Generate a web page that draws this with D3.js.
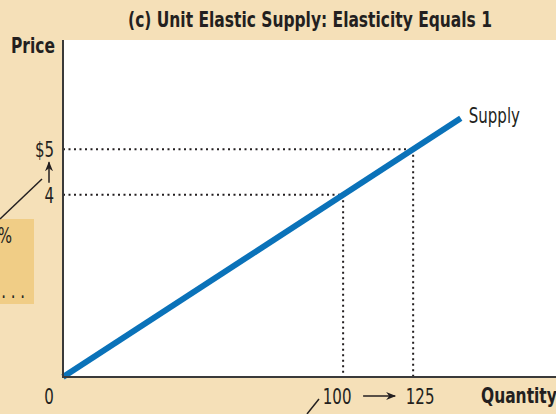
<!DOCTYPE html>
<html>
<head>
<meta charset="utf-8">
<script src="https://cdn.jsdelivr.net/npm/d3@7"></script>
<style>
  body { margin: 0; background: #f5e0b8; }
  svg { display: block; }
  text { font-family: "DejaVu Sans Condensed", "DejaVu Sans", sans-serif; fill: #231f20; }
</style>
</head>
<body>
<div id="chart"></div>
<script>
const title = '(c) Unit Elastic Supply: Elasticity Equals 1';
const quantityTicks = [0, 100, 125];
const quantityLabels = ['0', '100', '125'];
const priceTicks = [4, 5];
const priceLabels = ['4', '$5'];
const supplyQuantity = [0, 142];
const supplyPrice = [0, 5.68];

const width = 556, height = 414;
const margin = { top: 40, right: 0, bottom: 37, left: 63 };

const svg = d3.select('#chart')
  .append('svg')
    .attr('width', width)
    .attr('height', height);

svg.append('rect')
  .attr('width', width).attr('height', height)
  .attr('fill', '#f5e0b8');

// condensed text: the original face is narrow, so squeeze horizontally
function label(px, py, str, o = {}) {
  const sx = o.bold ? 0.82 : 0.76;
  return svg.append('text')
    .attr('transform', `translate(${px},${py}) scale(${sx},1)`)
    .attr('text-anchor', o.anchor || 'start')
    .attr('dy', o.dy || null)
    .style('font-size', (o.size || 21) + 'px')
    .style('font-weight', o.bold ? 'bold' : 'normal')
    .text(str);
}

const x = d3.scaleLinear()
  .domain([0, 176])
  .range([margin.left, width - margin.right]);

const y = d3.scaleLinear()
  .domain([0, 7.4])
  .range([height - margin.bottom, margin.top]);

// plot area
svg.append('rect')
  .attr('x', x(0)).attr('y', margin.top)
  .attr('width', width - margin.right - x(0))
  .attr('height', y(0) - margin.top)
  .attr('fill', '#fff');

// cut-off annotation box on the left
svg.append('rect')
  .attr('x', 0).attr('y', 219)
  .attr('width', 34).attr('height', 85)
  .attr('fill', '#f0cd86');
label(12, 243, '%', { anchor: 'end', size: 22 });
label(25, 298, '. . .', { anchor: 'end', size: 22 });

// leader lines
svg.append('line')
  .attr('x1', 0).attr('y1', 219).attr('x2', 42).attr('y2', 179)
  .attr('stroke', '#231f20').attr('stroke-width', 1.5);
svg.append('line')
  .attr('x1', 307).attr('y1', 414).attr('x2', 319).attr('y2', 399)
  .attr('stroke', '#231f20').attr('stroke-width', 1.5);

// dotted guides
const guides = svg.append('g')
  .attr('stroke', '#231f20')
  .attr('stroke-width', 2)
  .attr('stroke-dasharray', '2,3.5')
  .attr('fill', 'none');

priceTicks.forEach((p, i) => {
  const q = quantityTicks[i + 1];
  guides.append('line')
    .attr('x1', x(0)).attr('y1', y(p))
    .attr('x2', x(q)).attr('y2', y(p));
  guides.append('line')
    .attr('x1', x(q)).attr('y1', y(p))
    .attr('x2', x(q)).attr('y2', y(0));
});

// supply line
const line = d3.line()
  .x(d => x(d[0]))
  .y(d => y(d[1]));

svg.append('path')
  .datum(d3.zip(supplyQuantity, supplyPrice))
  .attr('d', line)
  .attr('fill', 'none')
  .attr('stroke', '#0a72b9')
  .attr('stroke-width', 6);

label(x(supplyQuantity[1]) + 8, y(supplyPrice[1]) + 5, 'Supply', { size: 22 });

// axes
svg.append('path')
  .attr('d', `M${x(0)},${margin.top}V${y(0)}H${width}`)
  .attr('fill', 'none')
  .attr('stroke', '#3a3a3a')
  .attr('stroke-width', 2);

// price labels
priceTicks.forEach((p, i) => {
  label(x(0) - 9, y(p), priceLabels[i], { anchor: 'end', dy: '0.35em', size: 22 });
});

// arrow heads
svg.append('defs').append('marker')
  .attr('id', 'head')
  .attr('viewBox', '0 0 10 10')
  .attr('refX', 9).attr('refY', 5)
  .attr('markerWidth', 10).attr('markerHeight', 10)
  .attr('markerUnits', 'userSpaceOnUse')
  .attr('orient', 'auto')
  .append('path')
    .attr('d', 'M0,1L10,5L0,9L3,5Z')
    .attr('fill', '#231f20');

// arrow from 4 to $5
svg.append('line')
  .attr('x1', x(0) - 14).attr('y1', y(priceTicks[0]) - 12)
  .attr('x2', x(0) - 14).attr('y2', y(priceTicks[1]) + 13)
  .attr('stroke', '#231f20').attr('stroke-width', 1.5)
  .attr('marker-end', 'url(#head)');

// quantity labels
const qOffset = [-14, -6, 7];
quantityTicks.forEach((q, i) => {
  label(x(q) + qOffset[i], y(0) + 27, quantityLabels[i], { anchor: 'middle', size: 22 });
});

// arrow from 100 to 125
svg.append('line')
  .attr('x1', x(quantityTicks[1]) + 20).attr('y1', y(0) + 19)
  .attr('x2', x(quantityTicks[2]) - 18).attr('y2', y(0) + 19)
  .attr('stroke', '#231f20').attr('stroke-width', 1.5)
  .attr('marker-end', 'url(#head)');

// axis titles
label(11, 53, 'Price', { bold: true });
label(481, 403, 'Quantity', { bold: true });
label(310, 27, title, { anchor: 'middle', bold: true });
</script>
</body>
</html>
